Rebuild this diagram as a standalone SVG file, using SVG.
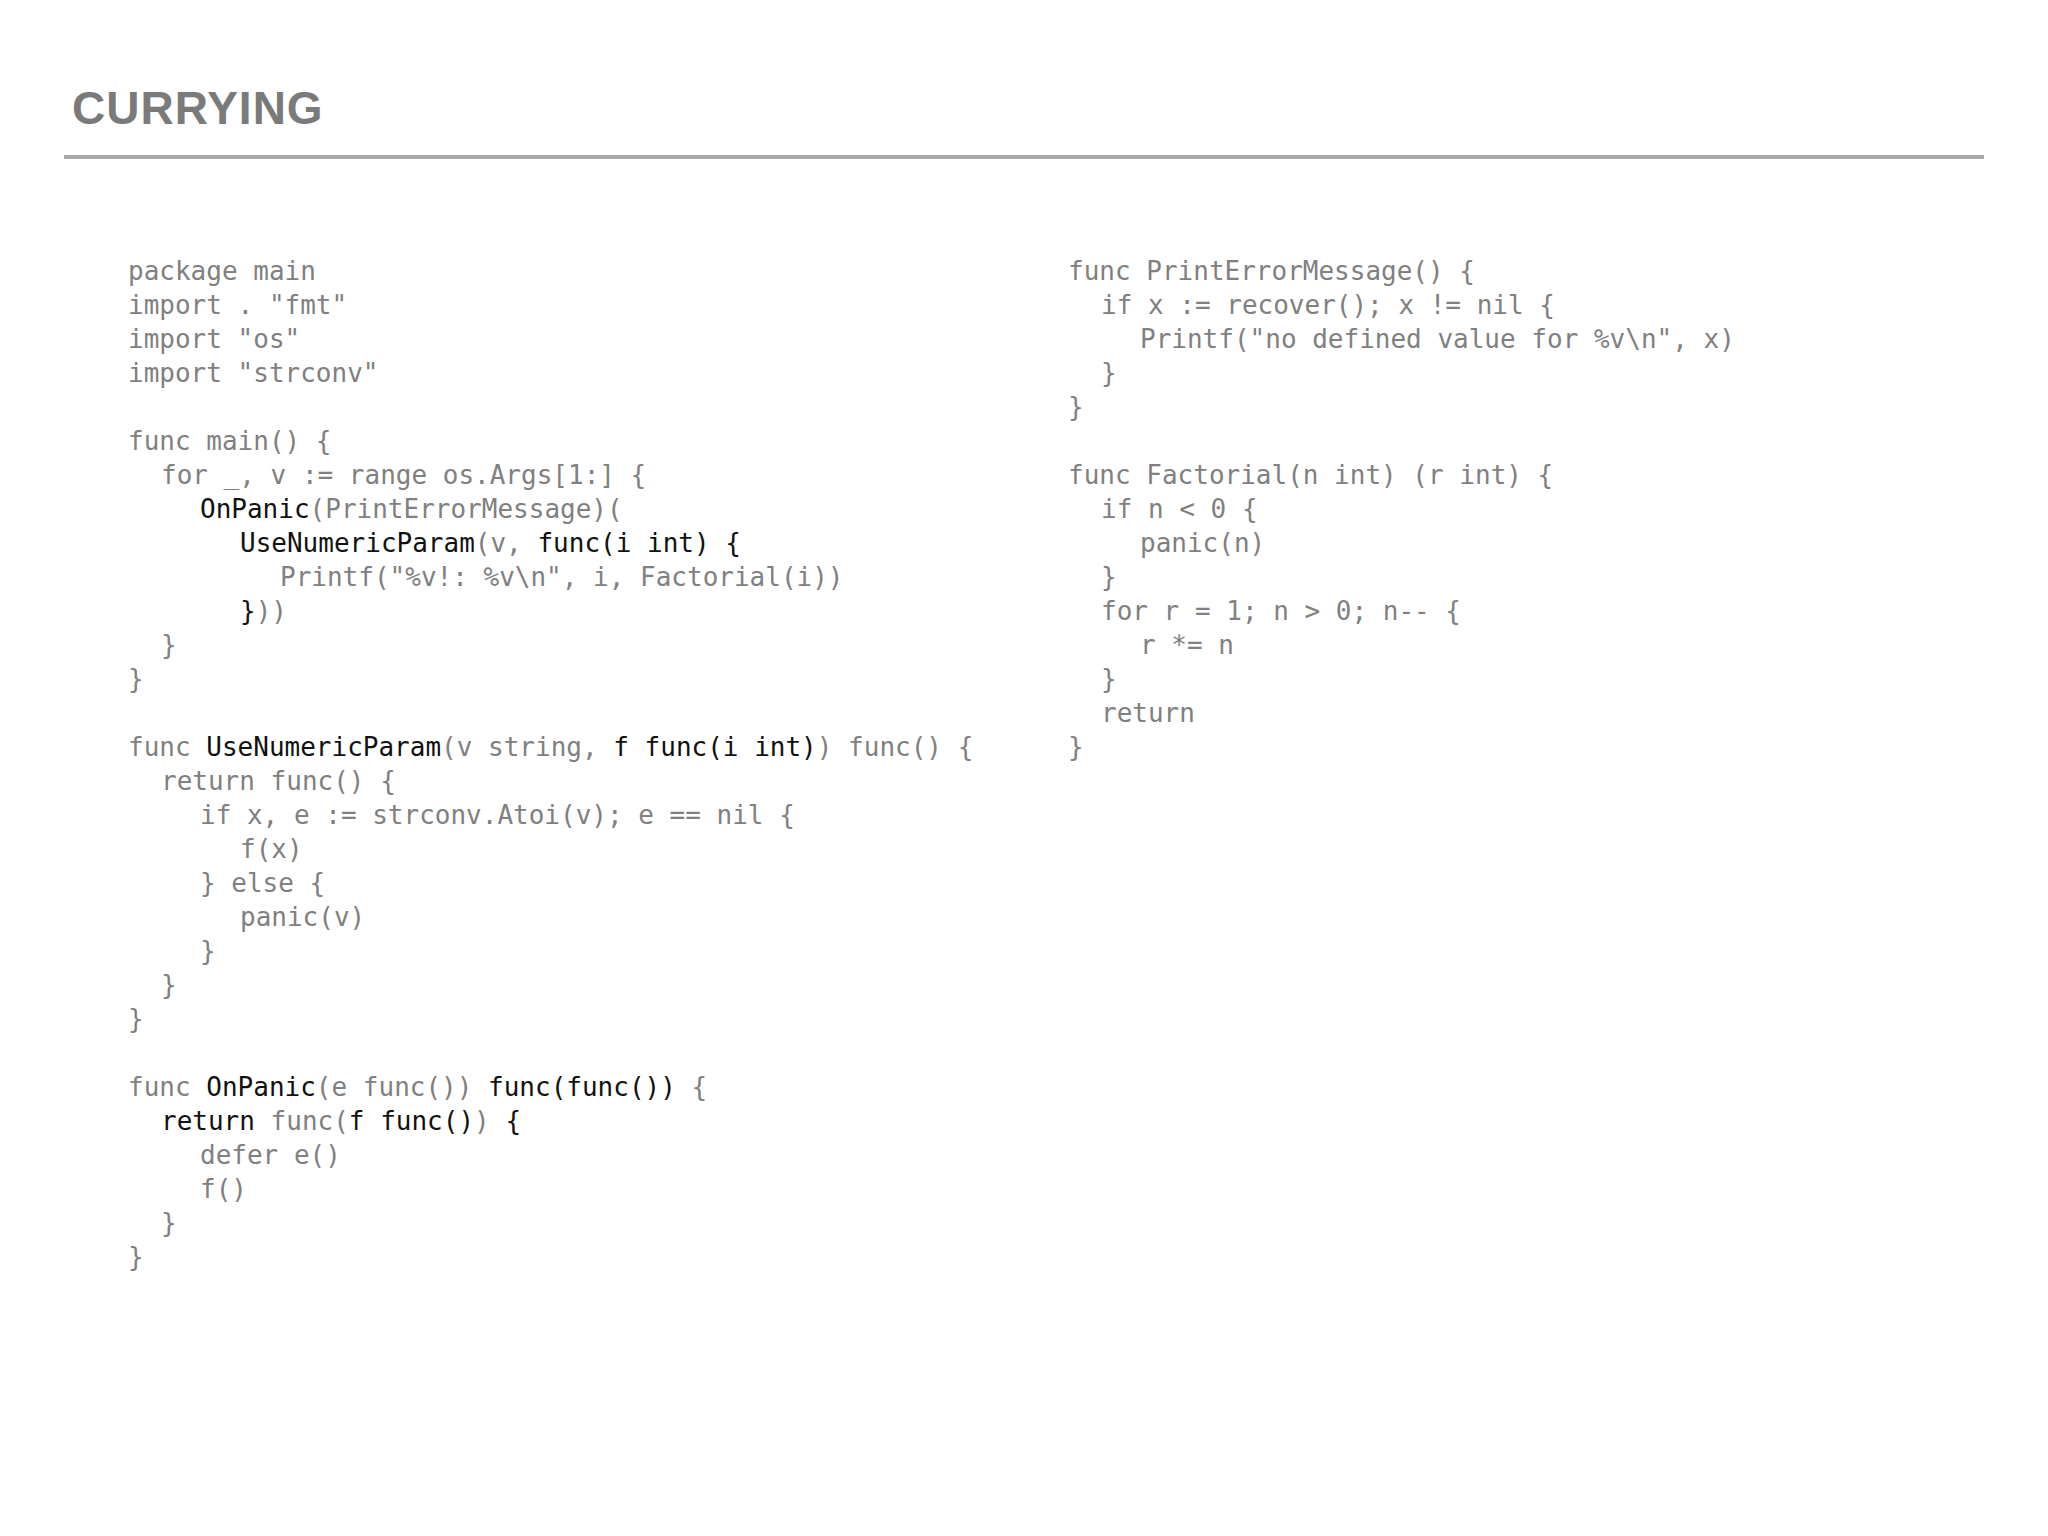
<svg xmlns="http://www.w3.org/2000/svg" width="2048" height="1536" viewBox="0 0 2048 1536">
<style>
.t{font-family:"Liberation Sans",Arial,sans-serif;font-size:46px;font-weight:bold;fill:#7a7a7a;letter-spacing:1px}
text.c{font-family:"DejaVu Sans Mono","Liberation Mono",monospace;font-size:26px;fill:#808080;white-space:pre}
.k{fill:#111}
</style>
<rect width="2048" height="1536" fill="#fff"/>
<g id="title">
<text class="t" x="72" y="124">CURRYING</text>
<line x1="64" y1="157" x2="1984" y2="157" stroke="#a8a8a8" stroke-width="4"/>
</g>
<g id="left" xml:space="preserve">
<text class="c" x="128" y="280">package main</text>
<text class="c" x="128" y="314">import . "fmt"</text>
<text class="c" x="128" y="348">import "os"</text>
<text class="c" x="128" y="382">import "strconv"</text>
<text class="c" x="128" y="450">func main() {</text>
<text class="c" x="161" y="484">for _, v := range os.Args[1:] {</text>
<text class="c" x="200" y="518"><tspan class="k">OnPanic</tspan>(PrintErrorMessage)(</text>
<text class="c" x="240" y="552"><tspan class="k">UseNumericParam</tspan>(v, <tspan class="k">func(i int) {</tspan></text>
<text class="c k" x="280" y="586">Printf("%v!: %v\n", i, Factorial(i))</text>
<text class="c" x="240" y="620"><tspan class="k">}</tspan>))</text>
<text class="c" x="161" y="654">}</text>
<text class="c" x="128" y="688">}</text>
<text class="c" x="128" y="756">func <tspan class="k">UseNumericParam</tspan>(v string, <tspan class="k">f func(i int)</tspan>) func() {</text>
<text class="c" x="161" y="790">return func() {</text>
<text class="c" x="200" y="824">if x, e := strconv.Atoi(v); e == nil {</text>
<text class="c k" x="240" y="858">f(x)</text>
<text class="c" x="200" y="892">} else {</text>
<text class="c" x="240" y="926">panic(v)</text>
<text class="c" x="200" y="960">}</text>
<text class="c" x="161" y="994">}</text>
<text class="c" x="128" y="1028">}</text>
<text class="c" x="128" y="1096">func <tspan class="k">OnPanic</tspan>(e func()) <tspan class="k">func(func())</tspan> {</text>
<text class="c" x="161" y="1130"><tspan class="k">return</tspan> func(<tspan class="k">f func()</tspan>) <tspan class="k">{</tspan></text>
<text class="c" x="200" y="1164">defer e()</text>
<text class="c k" x="200" y="1198">f()</text>
<text class="c k" x="161" y="1232">}</text>
<text class="c" x="128" y="1266">}</text>
</g>
<g id="right" xml:space="preserve">
<text class="c" x="1068" y="280">func PrintErrorMessage() {</text>
<text class="c" x="1101" y="314">if x := recover(); x != nil {</text>
<text class="c" x="1140" y="348">Printf("no defined value for %v\n", x)</text>
<text class="c" x="1101" y="382">}</text>
<text class="c" x="1068" y="416">}</text>
<text class="c" x="1068" y="484">func Factorial(n int) (r int) {</text>
<text class="c" x="1101" y="518">if n &lt; 0 {</text>
<text class="c" x="1140" y="552">panic(n)</text>
<text class="c" x="1101" y="586">}</text>
<text class="c" x="1101" y="620">for r = 1; n &gt; 0; n-- {</text>
<text class="c" x="1140" y="654">r *= n</text>
<text class="c" x="1101" y="688">}</text>
<text class="c" x="1101" y="722">return</text>
<text class="c" x="1068" y="756">}</text>
</g>
</svg>
